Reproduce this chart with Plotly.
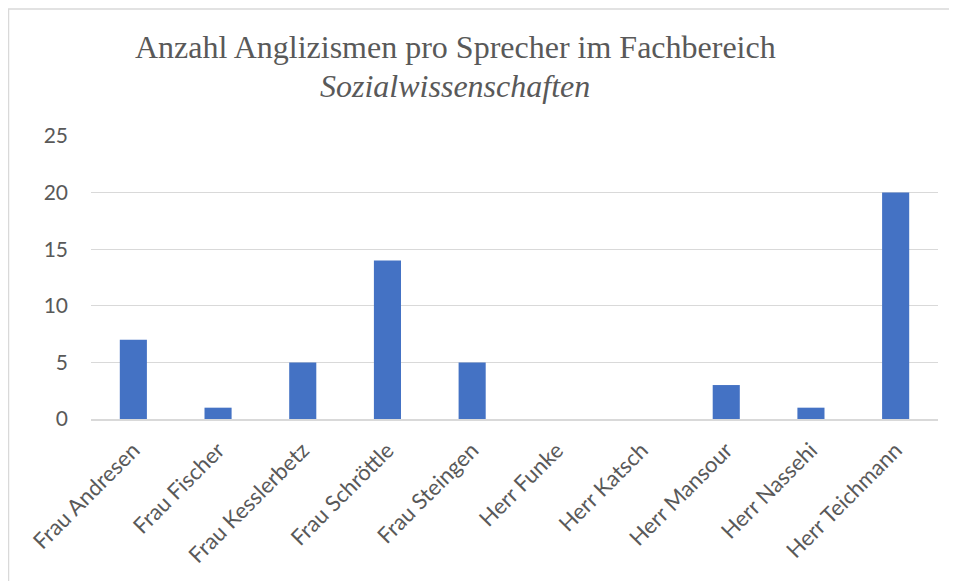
import plotly.graph_objects as go

categories = ["Frau Andresen", "Frau Fischer", "Frau Kesslerbetz", "Frau Schröttle",
              "Frau Steingen", "Herr Funke", "Herr Katsch", "Herr Mansour",
              "Herr Nassehi", "Herr Teichmann"]
values = [7, 1, 5, 14, 5, 0, 0, 3, 1, 20]
y_ticks = [0, 5, 10, 15, 20, 25]
title_line1 = "Anzahl Anglizismen pro Sprecher im Fachbereich"
title_line2 = "<i>Sozialwissenschaften</i>"

# page has an 8px body margin; figure is offset by 8px
W, H = 949, 573
L, R, T, B = 83, 19, 128, 162
PW, PH = W - L - R, H - T - B

def px_x(x):
    return (x - L) / PW

def px_y(y):
    return (H - B - y) / PH

fig = go.Figure(go.Bar(x=categories, y=values, marker=dict(color="#4472C4", line=dict(width=0))))

fig.update_layout(
    width=W, height=H,
    margin=dict(l=L, r=R, t=T, b=B, autoexpand=False),
    paper_bgcolor="white", plot_bgcolor="white",
    bargap=0.68,
    showlegend=False,
    font=dict(family="Lato", size=21, color="#595959"),
    xaxis=dict(tickangle=-45, showgrid=False, showline=True, linecolor="#d9d9d9", linewidth=1.5,
               ticks="", ticklabelstandoff=8,
               tickfont=dict(family="Lato", size=22, color="#595959")),
    yaxis=dict(range=[0, 25], tickvals=y_ticks, showgrid=True, gridcolor="#d9d9d9", gridwidth=1,
               zeroline=False, showline=False, ticks="", ticklabelstandoff=22,
               tickfont=dict(family="Lato", size=21, color="#595959")),
    annotations=[
        dict(text=title_line1, xref="paper", yref="paper", x=px_x(447), y=px_y(39),
             xanchor="center", yanchor="middle", showarrow=False,
             font=dict(family="Liberation Serif", size=32, color="#595959")),
        dict(text=title_line2, xref="paper", yref="paper", x=px_x(447), y=px_y(78),
             xanchor="center", yanchor="middle", showarrow=False,
             font=dict(family="Liberation Serif", size=32, color="#595959")),
    ],
    shapes=[
        dict(type="line", xref="paper", yref="paper",
             x0=px_x(0), x1=px_x(W), y0=px_y(1), y1=px_y(1),
             line=dict(color="#d9d9d9", width=1.5)),
        dict(type="line", xref="paper", yref="paper",
             x0=px_x(0.5), x1=px_x(0.5), y0=px_y(1), y1=px_y(H),
             line=dict(color="#d9d9d9", width=1.5)),
    ],
)

fig.write_html("out.html")
